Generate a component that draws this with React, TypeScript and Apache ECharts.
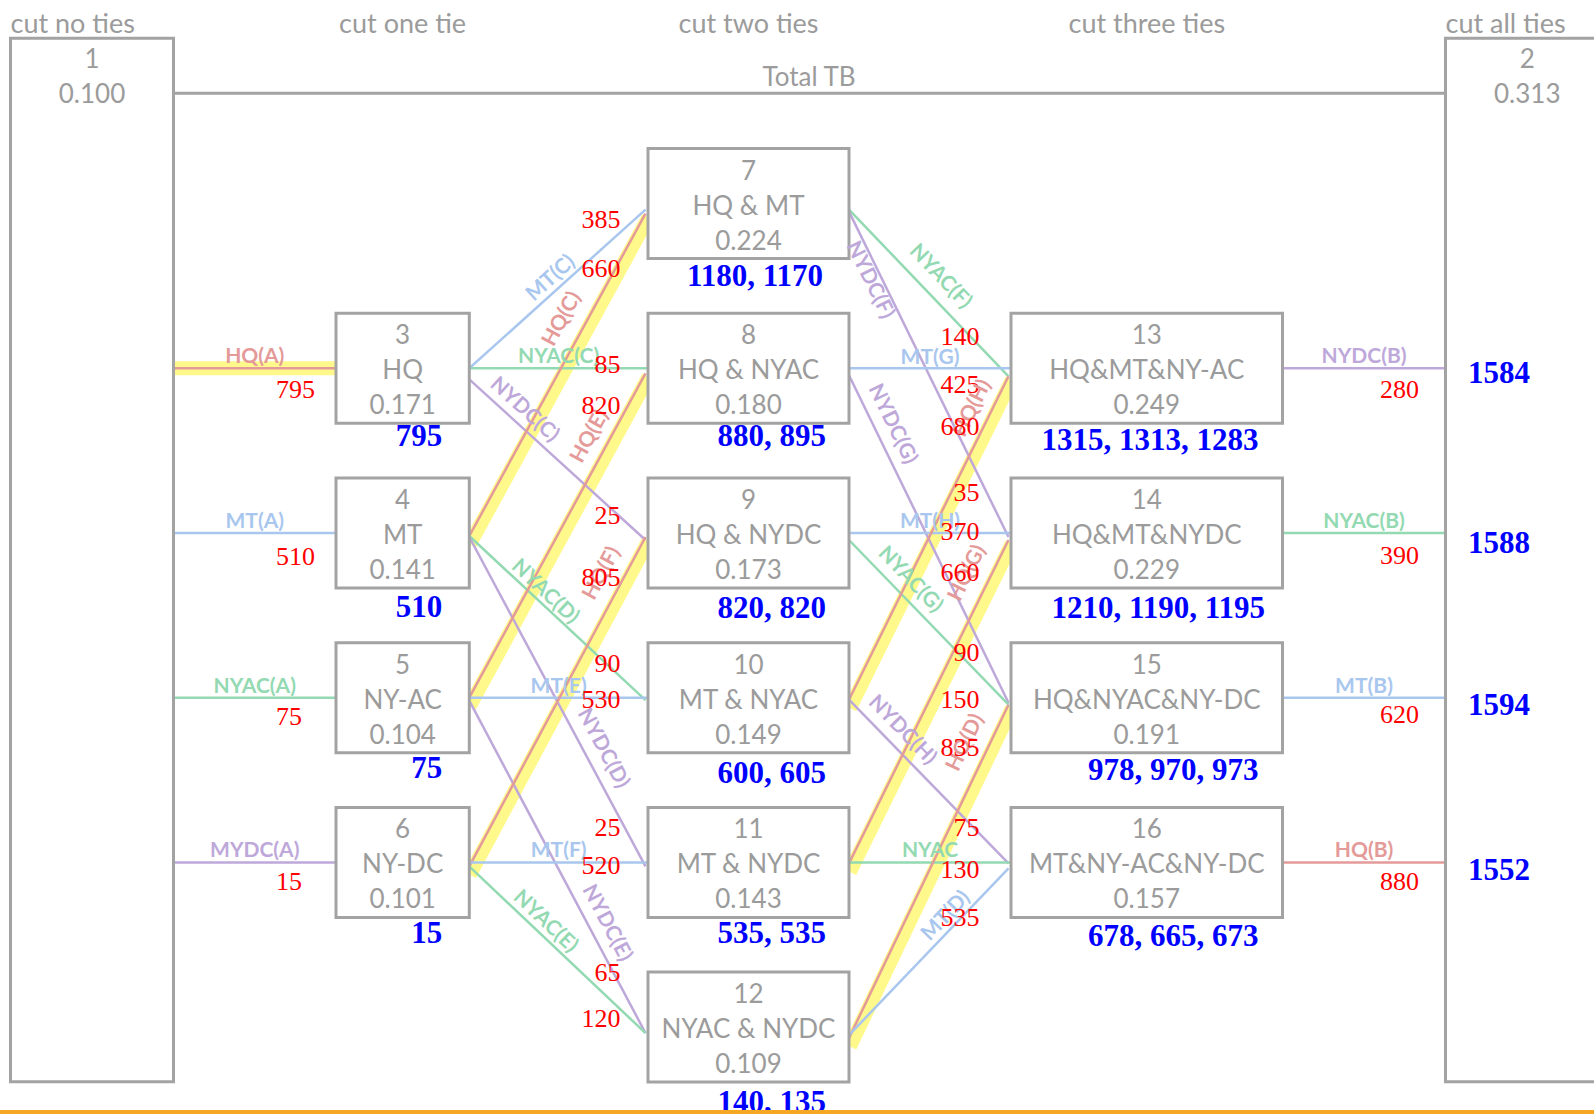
import React, { useEffect, useRef } from "react";
import * as echarts from "echarts";

// ---------------- data ----------------
const stageTitles = ["cut no ties", "cut one tie", "cut two ties", "cut three ties", "cut all ties"];
const totalTitle = "Total TB";

const nodeIds = ["1", "2", "3", "4", "5", "6", "7", "8", "9", "10", "11", "12", "13", "14", "15", "16"];
const nodeNames = [
  "", "", "HQ", "MT", "NY-AC", "NY-DC",
  "HQ & MT", "HQ & NYAC", "HQ & NYDC", "MT & NYAC", "MT & NYDC", "NYAC & NYDC",
  "HQ&MT&NY-AC", "HQ&MT&NYDC", "HQ&NYAC&NY-DC", "MT&NY-AC&NY-DC",
];
const nodeTB = [
  "0.100", "0.313", "0.171", "0.141", "0.104", "0.101",
  "0.224", "0.180", "0.173", "0.149", "0.143", "0.109",
  "0.249", "0.229", "0.191", "0.157",
];
const nodeTotals = [
  "", "", "795", "510", "75", "15",
  "1180, 1170", "880, 895", "820, 820", "600, 605", "535, 535", "140, 135",
  "1315, 1313, 1283", "1210, 1190, 1195", "978, 970, 973", "678, 665, 673",
];
const finalFromNodes = [13, 14, 15, 16];
const finalTotals = ["1584", "1588", "1594", "1552"];

const edgeFrom = [1, 1, 1, 1, 3, 3, 3, 4, 4, 4, 5, 5, 5, 6, 6, 6, 7, 7, 8, 8, 9, 9, 10, 10, 11, 11, 12, 12, 13, 14, 15, 16];
const edgeTo = [3, 4, 5, 6, 7, 8, 9, 7, 10, 11, 8, 10, 12, 9, 11, 12, 13, 14, 13, 15, 14, 15, 13, 16, 14, 16, 15, 16, 2, 2, 2, 2];
const edgeTie = [
  "HQ(A)", "MT(A)", "NYAC(A)", "MYDC(A)",
  "MT(C)", "NYAC(C)", "NYDC(C)", "HQ(C)", "NYAC(D)", "NYDC(D)",
  "HQ(E)", "MT(E)", "NYDC(E)", "HQ(F)", "MT(F)", "NYAC(E)",
  "NYAC(F)", "NYDC(F)", "MT(G)", "NYDC(G)", "MT(H)", "NYAC(G)",
  "HQ(H)", "NYDC(H)", "HQ(G)", "NYAC", "HQ(D)", "MT(D)",
  "NYDC(B)", "NYAC(B)", "MT(B)", "HQ(B)",
];
const edgeOffice = [
  "HQ", "MT", "NYAC", "NYDC",
  "MT", "NYAC", "NYDC", "HQ", "NYAC", "NYDC",
  "HQ", "MT", "NYDC", "HQ", "MT", "NYAC",
  "NYAC", "NYDC", "MT", "NYDC", "MT", "NYAC",
  "HQ", "NYDC", "HQ", "NYAC", "HQ", "MT",
  "NYDC", "NYAC", "MT", "HQ",
];
const edgeCost = [
  795, 510, 75, 15,
  385, 85, 25, 660, 90, 25,
  820, 530, 65, 805, 520, 120,
  140, 35, 425, 90, 370, 150,
  680, 75, 660, 130, 835, 535,
  280, 390, 620, 880,
];
const edgeHighlighted = [
  true, false, false, false,
  false, false, false, true, false, false,
  true, false, false, true, false, false,
  false, false, false, false, false, false,
  true, false, true, false, true, false,
  false, false, false, false,
];

// ---------------- layout (pixels) ----------------
const W = 1594;
const H = 1114;
const COL_LEFT = [10.5, 336, 648, 1011, 1445.5];
const COL_RIGHT = [173.5, 469.3, 849, 1282.5, 1609];
const NODE_COL = [0, 4, 1, 1, 1, 1, 2, 2, 2, 2, 2, 2, 3, 3, 3, 3];
const NODE_ROW = [-1, -1, 1, 2, 3, 4, 0, 1, 2, 3, 4, 5, 1, 2, 3, 4];
const ROW_Y0 = 203.6;
const ROW_PITCH = 164.7;
const BOX_H = 110;
const BIG_TOP = 38.3;
const BIG_BOTTOM = 1081.7;
const BIG_TEXT_DY = [20, 54.5];
const BOX_TEXT_DY = [-34, 1, 36];
const TOTAL_DX = [0, 0, -27, -27, -27, -27, -26, -23, -23, -23, -23, -23, -24, -17.5, -24, -24];
const TOTAL_DY = [0, 0, 12.5, 18.7, 14.8, 15.1, 17, 12.5, 19.5, 19.8, 14.6, 19, 15.9, 19.5, 16.5, 18.4];
const FINAL_DX = 22.5;
const FINAL_DY = [4.2, 9.5, 6.3, 6.6];
const EDGE_DY0 = [0, 0, 0, 0, 0, 0, 11, 3, 3, 4, 0, 0, 3, 4, 0, 4, 6, 8, 0, 7, 0, 7, 2, 2, 1, 0, 11, 8, 0, 0, 0, 0];
const EDGE_DY1 = [0, 0, 0, 0, 6, 0, 7, 10, 2.5, 4, 5, 0, 6, 4, 0, 6, 8, 4, 0, 5, 0, 7, 8, 1, 7, 0, 7, 6, 0, 0, 0, 0];
const TIE_T = [0.5, 0.5, 0.5, 0.5, 0.51, 0.5, 0.257, 0.639, 0.388, 0.668, 0.778, 0.5, 0.694, 0.859, 0.5, 0.384,
  0.484, 0.195, 0.5, 0.173, 0.5, 0.31, 0.876, 0.258, 0.867, 0.5, 0.857, 0.664, 0.5, 0.5, 0.5, 0.5];
const TIE_N = [13.5, 13.5, 13.5, 13.5, 14.7, 13.5, 17, 25, 13.2, 20.6, 21.2, 13.5, 19.8, 23.7, 13.5, 14.6,
  22.1, -9, 12.5, 20.1, 13.7, 18.8, 20.6, 19.3, 24.6, 14.2, 24.9, 14.7, 13.5, 13.5, 13.5, 13.5];
const COST_DY = [21, 23, 18.5, 18.7, 15.4, -4.3, -18, 65, -34.5, -35.3, 36.7, 1.5, -54.8, 44, 2.7, -8.3,
  -32.3, -40.5, 15.7, -45.7, -2, 1.3, 57.7, -35.3, 39, 6.7, 49.3, 54.7, 21, 22, 17, 19];
const COST_DX_BY_COL = [0, 102.5, -27.5, -31.5, -65.5];
const COST_ALIGN_BY_COL = ["left", "left", "right", "right", "left"];
const STAGE_X = [10.5, 402.6, 748.5, 1146.8, 1445.5];
const STAGE_ALIGN = ["left", "center", "center", "center", "left"];
const STAGE_Y = 22;
const TOTAL_LINE_Y = 93.3;
const TOTAL_TITLE_POS = [809, 76];
const BAND_W = 14;
const BAND_SHIFT = 5;
const BAND_EXT = 8;
const BAND_TRIM = 2;
const ORANGE_Y = 1112;

// ---------------- styles ----------------
const GRAY_TEXT = "#9b9b9b";
const BOX_STROKE = "#a3a3a3";
const RED = "#ff0000";
const BLUE = "#0000ff";
const BAND_COLOR = "#fff98c";
const ORANGE = "#f5a623";
const OFFICE_COLORS: Record<string, string> = {
  HQ: "#e49a98",
  MT: "#a9c7ee",
  NYAC: "#93d9b2",
  NYDC: "#bea8da",
};
const BOX_FONT = "26px Lato";
const STAGE_FONT = "27px Lato";
const TIE_FONT = "bold 21px Lato";
const COST_FONT = "26px 'Liberation Serif'";
const TOTAL_FONT = "bold 31px 'Liberation Serif'";

// ---------------- geometry helpers ----------------
function rowY(r: number) {
  return ROW_Y0 + r * ROW_PITCH;
}

function nodeBox(i: number) {
  const c = NODE_COL[i];
  const x0 = COL_LEFT[c];
  const x1 = COL_RIGHT[c];
  const r = NODE_ROW[i];
  if (r < 0) return { x0, x1, y0: BIG_TOP, y1: BIG_BOTTOM };
  const cy = rowY(r);
  return { x0, x1, y0: cy - BOX_H / 2, y1: cy + BOX_H / 2 };
}

function edgeGeom(e: number) {
  const a = edgeFrom[e] - 1;
  const b = edgeTo[e] - 1;
  const A = nodeBox(a);
  const B = nodeBox(b);
  const ra = NODE_ROW[a] >= 0 ? NODE_ROW[a] : NODE_ROW[b];
  const rb = NODE_ROW[b] >= 0 ? NODE_ROW[b] : NODE_ROW[a];
  const y0 = rowY(ra) + EDGE_DY0[e];
  const y1 = rowY(rb) + EDGE_DY1[e];
  const diag = Math.abs(y1 - y0) > 1;
  return { a, b, x0: A.x1, y0, x1: B.x0 - (diag ? 2.5 : 0), y1, ra, rb, colB: NODE_COL[b], targetLeft: B.x0 };
}

function txt(text: string, x: number, y: number, font: string, fill: string, align = "center", rotation = 0) {
  return {
    type: "text",
    x,
    y,
    rotation,
    style: { text, fill, font, align, verticalAlign: "middle", textAlign: align, textVerticalAlign: "middle" },
  };
}

// ---------------- render functions ----------------
function renderBand(_p: any, api: any) {
  const e = api.value(2);
  const g = edgeGeom(e);
  const p0 = api.coord([g.x0, g.y0]);
  const p1 = api.coord([g.x1, g.y1]);
  const dx = p1[0] - p0[0];
  const dy = p1[1] - p0[1];
  const L = Math.hypot(dx, dy);
  const ux = dx / L;
  const uy = dy / L;
  const s = Math.abs(uy);
  const nx = -uy;
  const ny = ux;
  const o = BAND_SHIFT * s;
  const ext = BAND_EXT * s;
  const trim = BAND_TRIM * s;
  return {
    type: "line",
    shape: {
      x1: p0[0] - ext * ux + o * nx,
      y1: p0[1] - ext * uy + o * ny,
      x2: p1[0] - trim * ux + o * nx,
      y2: p1[1] - trim * uy + o * ny,
    },
    style: { stroke: BAND_COLOR, lineWidth: BAND_W, lineCap: "butt" },
  };
}

function renderEdge(_p: any, api: any) {
  const e = api.value(2);
  const g = edgeGeom(e);
  const p0 = api.coord([g.x0, g.y0]);
  const p1 = api.coord([g.x1, g.y1]);
  return {
    type: "line",
    shape: { x1: p0[0], y1: p0[1], x2: p1[0], y2: p1[1] },
    style: { stroke: OFFICE_COLORS[edgeOffice[e]], lineWidth: 2.5 },
  };
}

function renderEdgeLabels(_p: any, api: any) {
  const e = api.value(2);
  const g = edgeGeom(e);
  const p0 = api.coord([g.x0, g.y0]);
  const p1 = api.coord([g.x1, g.y1]);
  const dx = p1[0] - p0[0];
  const dy = p1[1] - p0[1];
  const L = Math.hypot(dx, dy);
  const nux = dy / L;
  const nuy = -dx / L;
  const t = TIE_T[e];
  const n = TIE_N[e];
  const lx = p0[0] + t * dx + n * nux;
  const ly = p0[1] + t * dy + n * nuy;
  const rot = -Math.atan2(dy, dx);
  const color = OFFICE_COLORS[edgeOffice[e]];
  const children: any[] = [txt(edgeTie[e], lx, ly, TIE_FONT, color, "center", rot)];

  const col = g.colB;
  const refX = col === 1 ? g.x0 : g.targetLeft;
  const costRow = col === 4 ? g.ra : g.rb;
  const cp = api.coord([refX + COST_DX_BY_COL[col], rowY(costRow) + COST_DY[e]]);
  children.push(txt(String(edgeCost[e]), cp[0], cp[1], COST_FONT, RED, COST_ALIGN_BY_COL[col]));

  if (col === 4) {
    const k = finalFromNodes.indexOf(edgeFrom[e]);
    const fp = api.coord([g.targetLeft + FINAL_DX, rowY(g.ra) + FINAL_DY[k]]);
    children.push(txt(finalTotals[k], fp[0], fp[1], TOTAL_FONT, BLUE, "left"));
  }
  return { type: "group", children };
}

function renderNode(_p: any, api: any) {
  const i = api.value(2);
  const B = nodeBox(i);
  const tl = api.coord([B.x0, B.y0]);
  const br = api.coord([B.x1, B.y1]);
  const cx = (tl[0] + br[0]) / 2;
  const children: any[] = [
    {
      type: "rect",
      shape: { x: tl[0], y: tl[1], width: br[0] - tl[0], height: br[1] - tl[1] },
      style: { fill: "#ffffff", stroke: BOX_STROKE, lineWidth: 3 },
    },
  ];
  if (NODE_ROW[i] < 0) {
    children.push(txt(nodeIds[i], cx, tl[1] + BIG_TEXT_DY[0], BOX_FONT, GRAY_TEXT));
    children.push(txt(nodeTB[i], cx, tl[1] + BIG_TEXT_DY[1], BOX_FONT, GRAY_TEXT));
  } else {
    const cy = (tl[1] + br[1]) / 2;
    children.push(txt(nodeIds[i], cx, cy + BOX_TEXT_DY[0], BOX_FONT, GRAY_TEXT));
    children.push(txt(nodeNames[i], cx, cy + BOX_TEXT_DY[1], BOX_FONT, GRAY_TEXT));
    children.push(txt(nodeTB[i], cx, cy + BOX_TEXT_DY[2], BOX_FONT, GRAY_TEXT));
    if (nodeTotals[i]) {
      children.push(txt(nodeTotals[i], br[0] + TOTAL_DX[i], br[1] + TOTAL_DY[i], TOTAL_FONT, BLUE, "right"));
    }
  }
  return { type: "group", children };
}

function renderStage(_p: any, api: any) {
  const k = api.value(2);
  const p = api.coord([STAGE_X[k], STAGE_Y]);
  return txt(stageTitles[k], p[0], p[1], STAGE_FONT, GRAY_TEXT, STAGE_ALIGN[k]);
}

function renderFrame(_p: any, api: any) {
  const a = api.coord([COL_RIGHT[0], TOTAL_LINE_Y]);
  const b = api.coord([COL_LEFT[4], TOTAL_LINE_Y]);
  const tp = api.coord(TOTAL_TITLE_POS);
  return {
    type: "group",
    children: [
      { type: "line", shape: { x1: a[0], y1: a[1], x2: b[0], y2: b[1] }, style: { stroke: BOX_STROKE, lineWidth: 3 } },
      txt(totalTitle, tp[0], tp[1], BOX_FONT, GRAY_TEXT),
    ],
  };
}

function renderOrange(_p: any, api: any) {
  const a = api.coord([0, ORANGE_Y]);
  const b = api.coord([W, ORANGE_Y]);
  return { type: "line", shape: { x1: a[0], y1: a[1], x2: b[0], y2: b[1] }, style: { stroke: ORANGE, lineWidth: 4 } };
}

function buildOption() {
  const edgeData = edgeFrom.map((_, e) => {
    const g = edgeGeom(e);
    return [(g.x0 + g.x1) / 2, (g.y0 + g.y1) / 2, e];
  });
  const bandData = edgeData.filter((_, e) => edgeHighlighted[e]);
  const nodeData = nodeIds.map((_, i) => {
    const B = nodeBox(i);
    return [(B.x0 + B.x1) / 2, (B.y0 + B.y1) / 2, i];
  });
  const stageData = stageTitles.map((_, k) => [STAGE_X[k], STAGE_Y, k]);
  const common = { type: "custom", coordinateSystem: "cartesian2d", silent: true, clip: false, animation: false };
  return {
    animation: false,
    backgroundColor: "#ffffff",
    grid: { left: 0, right: 0, top: 0, bottom: 0, containLabel: false },
    xAxis: { type: "value", min: 0, max: W, show: false },
    yAxis: { type: "value", min: 0, max: H, inverse: true, show: false },
    series: [
      { ...common, name: "frame", z: 1, data: [[W / 2, TOTAL_LINE_Y, 0]], renderItem: renderFrame },
      { ...common, name: "bands", z: 2, data: bandData, renderItem: renderBand },
      { ...common, name: "edges", z: 3, data: edgeData, renderItem: renderEdge },
      { ...common, name: "nodes", z: 4, data: nodeData, renderItem: renderNode },
      { ...common, name: "edgeLabels", z: 5, data: edgeData, renderItem: renderEdgeLabels },
      { ...common, name: "stages", z: 5, data: stageData, renderItem: renderStage },
      { ...common, name: "orange", z: 6, data: [[W / 2, ORANGE_Y, 0]], renderItem: renderOrange },
    ],
  };
}

export default function App() {
  const ref = useRef<HTMLDivElement>(null);
  useEffect(() => {
    const chart = echarts.init(ref.current as HTMLDivElement, null, { renderer: "svg" });
    chart.setOption(buildOption() as any);
    return () => chart.dispose();
  }, []);
  return (
    <div
      ref={ref}
      style={{ position: "fixed", left: 0, top: 0, width: W, height: H, background: "#ffffff" }}
    />
  );
}
